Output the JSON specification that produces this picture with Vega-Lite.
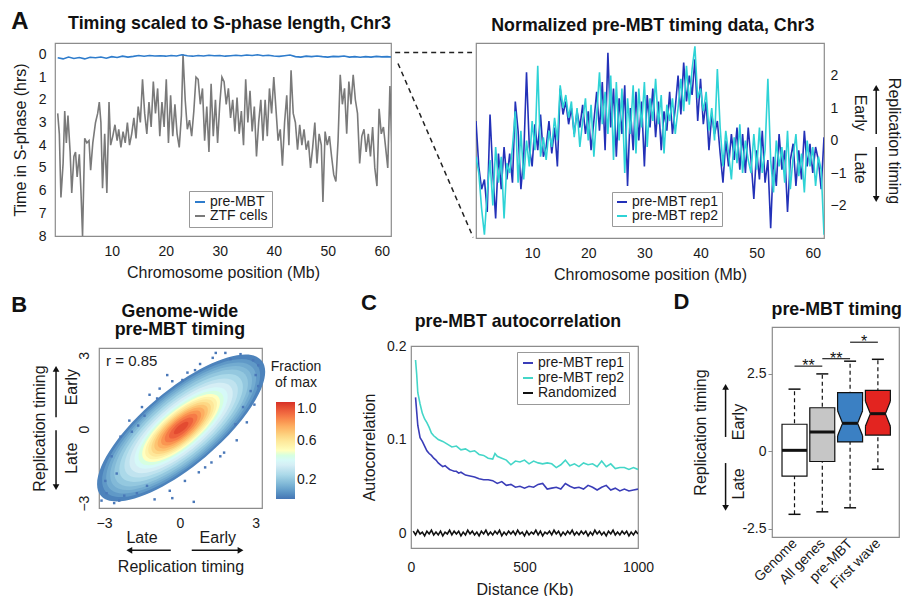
{
"$schema":"https://vega.github.io/schema/vega-lite/v6.json",
"background":"white",
"padding":{"left":10,"top":9,"right":0,"bottom":0},
"spacing":7,
"resolve":{"scale":{"x":"independent","y":"independent","color":"independent","shape":"independent","size":"independent","fill":"independent"},"legend":{"color":"independent","shape":"independent","size":"independent","fill":"independent"},"axis":{"x":"independent","y":"independent"}},
"config":{
 "font":"Liberation Sans",
 "view":{"stroke":"#8c8c8c","strokeWidth":1.2},
 "axis":{"domain":false,"ticks":false,"grid":false,"labelFontSize":14,"titleFontSize":16,"titleFontWeight":"normal","labelColor":"#1a1a1a","titleColor":"#1a1a1a","labelFlush":false,"labelOverlap":false,"labelFont":"Liberation Sans","titleFont":"Liberation Sans"},
 "legend":{"labelFontSize":14,"labelColor":"#1a1a1a","titleFontWeight":"normal","titleFontSize":14,"titleColor":"#1a1a1a","labelFont":"Liberation Sans","titleFont":"Liberation Sans"},
 "text":{"font":"Liberation Sans"}
},
"vconcat":[
 {"bounds":"flush","spacing":85,
  "resolve":{"scale":{"x":"independent","y":"independent","color":"independent","shape":"independent"},"legend":{"color":"independent","shape":"independent"},"axis":{"x":"independent","y":"independent"}},
  "hconcat":[
  {
   "width":336,"height":193,
   "encoding":{
    "x":{"field":"x","type":"quantitative","scale":{"domain":[-0.5,61.7],"nice":false,"zero":false},"axis":{"values":[10,20,30,40,50,60],"title":"Chromosome position (Mb)","labelPadding":8,"titlePadding":6}},
    "y":{"field":"y","type":"quantitative","scale":{"domain":[-0.5,8],"reverse":true,"nice":false,"zero":false},"axis":{"values":[0,1,2,3,4,5,6,7,8],"title":"Time in S-phase (hrs)","labelPadding":9,"titlePadding":10}}
   },
   "layer":[
    {"data":{"values":[
{"x":0,"y":2.6,"s":"ZTF cells"},{"x":0.3,"y":3.5,"s":"ZTF cells"},{"x":0.6,"y":6.3,"s":"ZTF cells"},{"x":1.0,"y":4.8,"s":"ZTF cells"},{"x":1.3,"y":2.5,"s":"ZTF cells"},{"x":1.6,"y":3.9,"s":"ZTF cells"},{"x":1.9,"y":2.7,"s":"ZTF cells"},{"x":2.3,"y":4.3,"s":"ZTF cells"},{"x":2.6,"y":6.1,"s":"ZTF cells"},{"x":3.0,"y":4.5,"s":"ZTF cells"},{"x":3.3,"y":4.3,"s":"ZTF cells"},{"x":3.6,"y":5.4,"s":"ZTF cells"},{"x":4.0,"y":4.4,"s":"ZTF cells"},{"x":4.3,"y":6.0,"s":"ZTF cells"},{"x":4.6,"y":8.0,"s":"ZTF cells"},{"x":5.0,"y":3.7,"s":"ZTF cells"},{"x":5.4,"y":3.9,"s":"ZTF cells"},{"x":5.8,"y":3.8,"s":"ZTF cells"},{"x":6.1,"y":5.1,"s":"ZTF cells"},{"x":6.5,"y":3.9,"s":"ZTF cells"},{"x":7.0,"y":3.0,"s":"ZTF cells"},{"x":7.4,"y":2.6,"s":"ZTF cells"},{"x":7.7,"y":2.1,"s":"ZTF cells"},{"x":8.0,"y":3.0,"s":"ZTF cells"},{"x":8.3,"y":5.9,"s":"ZTF cells"},{"x":8.7,"y":3.5,"s":"ZTF cells"},{"x":9.1,"y":6.1,"s":"ZTF cells"},{"x":9.5,"y":2.1,"s":"ZTF cells"},{"x":9.8,"y":4.0,"s":"ZTF cells"},{"x":10.2,"y":3.6,"s":"ZTF cells"},{"x":10.6,"y":3.1,"s":"ZTF cells"},{"x":11.0,"y":3.8,"s":"ZTF cells"},{"x":11.3,"y":3.3,"s":"ZTF cells"},{"x":11.7,"y":4.1,"s":"ZTF cells"},{"x":12.1,"y":3.4,"s":"ZTF cells"},{"x":12.5,"y":3.9,"s":"ZTF cells"},{"x":12.9,"y":3.0,"s":"ZTF cells"},{"x":13.3,"y":4.0,"s":"ZTF cells"},{"x":13.7,"y":3.5,"s":"ZTF cells"},{"x":14.1,"y":2.8,"s":"ZTF cells"},{"x":14.5,"y":3.7,"s":"ZTF cells"},{"x":14.9,"y":2.3,"s":"ZTF cells"},{"x":15.3,"y":3.0,"s":"ZTF cells"},{"x":15.7,"y":1.1,"s":"ZTF cells"},{"x":16.1,"y":2.6,"s":"ZTF cells"},{"x":16.5,"y":3.5,"s":"ZTF cells"},{"x":16.9,"y":2.1,"s":"ZTF cells"},{"x":17.3,"y":3.2,"s":"ZTF cells"},{"x":17.7,"y":1.2,"s":"ZTF cells"},{"x":18.1,"y":2.6,"s":"ZTF cells"},{"x":18.5,"y":1.5,"s":"ZTF cells"},{"x":18.9,"y":3.6,"s":"ZTF cells"},{"x":19.3,"y":2.1,"s":"ZTF cells"},{"x":19.7,"y":3.2,"s":"ZTF cells"},{"x":20.1,"y":1.1,"s":"ZTF cells"},{"x":20.5,"y":3.9,"s":"ZTF cells"},{"x":20.9,"y":1.8,"s":"ZTF cells"},{"x":21.3,"y":3.6,"s":"ZTF cells"},{"x":21.7,"y":2.2,"s":"ZTF cells"},{"x":22.1,"y":3.5,"s":"ZTF cells"},{"x":22.5,"y":4.1,"s":"ZTF cells"},{"x":22.9,"y":2.7,"s":"ZTF cells"},{"x":23.2,"y":0.0,"s":"ZTF cells"},{"x":23.6,"y":2.0,"s":"ZTF cells"},{"x":24.0,"y":3.3,"s":"ZTF cells"},{"x":24.4,"y":2.9,"s":"ZTF cells"},{"x":24.8,"y":3.6,"s":"ZTF cells"},{"x":25.2,"y":2.5,"s":"ZTF cells"},{"x":25.6,"y":1.0,"s":"ZTF cells"},{"x":26.0,"y":1.1,"s":"ZTF cells"},{"x":26.4,"y":2.2,"s":"ZTF cells"},{"x":26.8,"y":1.5,"s":"ZTF cells"},{"x":27.2,"y":3.8,"s":"ZTF cells"},{"x":27.6,"y":2.3,"s":"ZTF cells"},{"x":28.0,"y":4.3,"s":"ZTF cells"},{"x":28.4,"y":1.3,"s":"ZTF cells"},{"x":28.8,"y":3.6,"s":"ZTF cells"},{"x":29.2,"y":2.0,"s":"ZTF cells"},{"x":29.6,"y":3.9,"s":"ZTF cells"},{"x":30.0,"y":2.2,"s":"ZTF cells"},{"x":30.4,"y":1.0,"s":"ZTF cells"},{"x":30.8,"y":1.2,"s":"ZTF cells"},{"x":31.2,"y":2.2,"s":"ZTF cells"},{"x":31.6,"y":1.5,"s":"ZTF cells"},{"x":32.0,"y":2.8,"s":"ZTF cells"},{"x":32.4,"y":2.0,"s":"ZTF cells"},{"x":32.8,"y":3.4,"s":"ZTF cells"},{"x":33.2,"y":1.9,"s":"ZTF cells"},{"x":33.6,"y":3.5,"s":"ZTF cells"},{"x":34.0,"y":2.5,"s":"ZTF cells"},{"x":34.4,"y":4.0,"s":"ZTF cells"},{"x":34.8,"y":1.1,"s":"ZTF cells"},{"x":35.2,"y":3.0,"s":"ZTF cells"},{"x":35.6,"y":1.6,"s":"ZTF cells"},{"x":36.0,"y":3.4,"s":"ZTF cells"},{"x":36.4,"y":2.3,"s":"ZTF cells"},{"x":36.8,"y":4.5,"s":"ZTF cells"},{"x":37.2,"y":3.0,"s":"ZTF cells"},{"x":37.6,"y":2.0,"s":"ZTF cells"},{"x":38.0,"y":3.8,"s":"ZTF cells"},{"x":38.4,"y":2.0,"s":"ZTF cells"},{"x":38.8,"y":3.6,"s":"ZTF cells"},{"x":39.2,"y":1.5,"s":"ZTF cells"},{"x":39.6,"y":2.6,"s":"ZTF cells"},{"x":40.0,"y":1.0,"s":"ZTF cells"},{"x":40.4,"y":2.4,"s":"ZTF cells"},{"x":40.8,"y":3.8,"s":"ZTF cells"},{"x":41.2,"y":3.3,"s":"ZTF cells"},{"x":41.6,"y":4.9,"s":"ZTF cells"},{"x":42.0,"y":3.0,"s":"ZTF cells"},{"x":42.4,"y":1.8,"s":"ZTF cells"},{"x":42.8,"y":4.0,"s":"ZTF cells"},{"x":43.2,"y":0.7,"s":"ZTF cells"},{"x":43.6,"y":2.6,"s":"ZTF cells"},{"x":44.0,"y":3.0,"s":"ZTF cells"},{"x":44.4,"y":4.2,"s":"ZTF cells"},{"x":44.8,"y":3.1,"s":"ZTF cells"},{"x":45.2,"y":4.0,"s":"ZTF cells"},{"x":45.6,"y":3.3,"s":"ZTF cells"},{"x":46.0,"y":4.2,"s":"ZTF cells"},{"x":46.4,"y":3.8,"s":"ZTF cells"},{"x":46.8,"y":5.0,"s":"ZTF cells"},{"x":47.2,"y":4.1,"s":"ZTF cells"},{"x":47.6,"y":3.0,"s":"ZTF cells"},{"x":48.0,"y":4.8,"s":"ZTF cells"},{"x":48.4,"y":3.5,"s":"ZTF cells"},{"x":48.8,"y":4.0,"s":"ZTF cells"},{"x":49.1,"y":6.5,"s":"ZTF cells"},{"x":49.5,"y":3.4,"s":"ZTF cells"},{"x":49.9,"y":4.0,"s":"ZTF cells"},{"x":50.3,"y":3.6,"s":"ZTF cells"},{"x":50.7,"y":4.5,"s":"ZTF cells"},{"x":51.1,"y":5.3,"s":"ZTF cells"},{"x":51.5,"y":5.6,"s":"ZTF cells"},{"x":51.9,"y":3.8,"s":"ZTF cells"},{"x":52.3,"y":0.9,"s":"ZTF cells"},{"x":52.7,"y":2.2,"s":"ZTF cells"},{"x":53.1,"y":1.5,"s":"ZTF cells"},{"x":53.5,"y":3.5,"s":"ZTF cells"},{"x":53.9,"y":1.2,"s":"ZTF cells"},{"x":54.3,"y":2.2,"s":"ZTF cells"},{"x":54.7,"y":0.9,"s":"ZTF cells"},{"x":55.1,"y":2.0,"s":"ZTF cells"},{"x":55.5,"y":2.6,"s":"ZTF cells"},{"x":55.9,"y":4.8,"s":"ZTF cells"},{"x":56.3,"y":3.6,"s":"ZTF cells"},{"x":56.7,"y":3.3,"s":"ZTF cells"},{"x":57.1,"y":4.3,"s":"ZTF cells"},{"x":57.5,"y":3.5,"s":"ZTF cells"},{"x":57.9,"y":4.5,"s":"ZTF cells"},{"x":58.3,"y":3.2,"s":"ZTF cells"},{"x":58.7,"y":5.0,"s":"ZTF cells"},{"x":59.1,"y":5.8,"s":"ZTF cells"},{"x":59.5,"y":2.4,"s":"ZTF cells"},{"x":59.9,"y":3.5,"s":"ZTF cells"},{"x":60.3,"y":3.2,"s":"ZTF cells"},{"x":60.7,"y":4.1,"s":"ZTF cells"},{"x":61.1,"y":5.0,"s":"ZTF cells"},{"x":61.5,"y":1.4,"s":"ZTF cells"},{"x":61.9,"y":4.3,"s":"ZTF cells"},
{"x":0,"y":0.15,"s":"pre-MBT"},{"x":1,"y":0.2,"s":"pre-MBT"},{"x":2,"y":0.12,"s":"pre-MBT"},{"x":3,"y":0.18,"s":"pre-MBT"},{"x":4,"y":0.14,"s":"pre-MBT"},{"x":5,"y":0.2,"s":"pre-MBT"},{"x":6,"y":0.13,"s":"pre-MBT"},{"x":7,"y":0.15,"s":"pre-MBT"},{"x":8,"y":0.12,"s":"pre-MBT"},{"x":9,"y":0.17,"s":"pre-MBT"},{"x":10,"y":0.1,"s":"pre-MBT"},{"x":11,"y":0.14,"s":"pre-MBT"},{"x":12,"y":0.08,"s":"pre-MBT"},{"x":13,"y":0.12,"s":"pre-MBT"},{"x":14,"y":0.09,"s":"pre-MBT"},{"x":15,"y":0.05,"s":"pre-MBT"},{"x":16,"y":0.08,"s":"pre-MBT"},{"x":17,"y":0.05,"s":"pre-MBT"},{"x":18,"y":0.07,"s":"pre-MBT"},{"x":19,"y":0.06,"s":"pre-MBT"},{"x":20,"y":0.08,"s":"pre-MBT"},{"x":21,"y":0.05,"s":"pre-MBT"},{"x":22,"y":0.07,"s":"pre-MBT"},{"x":23,"y":0.02,"s":"pre-MBT"},{"x":24,"y":0.06,"s":"pre-MBT"},{"x":25,"y":0.08,"s":"pre-MBT"},{"x":26,"y":0.05,"s":"pre-MBT"},{"x":27,"y":0.07,"s":"pre-MBT"},{"x":28,"y":0.04,"s":"pre-MBT"},{"x":29,"y":0.06,"s":"pre-MBT"},{"x":30,"y":0.05,"s":"pre-MBT"},{"x":31,"y":0.08,"s":"pre-MBT"},{"x":32,"y":0.06,"s":"pre-MBT"},{"x":33,"y":0.04,"s":"pre-MBT"},{"x":34,"y":0.06,"s":"pre-MBT"},{"x":35,"y":0.03,"s":"pre-MBT"},{"x":36,"y":0.05,"s":"pre-MBT"},{"x":37,"y":0.02,"s":"pre-MBT"},{"x":38,"y":0.06,"s":"pre-MBT"},{"x":39,"y":0.04,"s":"pre-MBT"},{"x":40,"y":0.07,"s":"pre-MBT"},{"x":41,"y":0.09,"s":"pre-MBT"},{"x":42,"y":0.06,"s":"pre-MBT"},{"x":43,"y":0.03,"s":"pre-MBT"},{"x":44,"y":0.1,"s":"pre-MBT"},{"x":45,"y":0.12,"s":"pre-MBT"},{"x":46,"y":0.08,"s":"pre-MBT"},{"x":47,"y":0.1,"s":"pre-MBT"},{"x":48,"y":0.07,"s":"pre-MBT"},{"x":49,"y":0.1,"s":"pre-MBT"},{"x":50,"y":0.12,"s":"pre-MBT"},{"x":51,"y":0.09,"s":"pre-MBT"},{"x":52,"y":0.1,"s":"pre-MBT"},{"x":53,"y":0.07,"s":"pre-MBT"},{"x":54,"y":0.12,"s":"pre-MBT"},{"x":55,"y":0.1,"s":"pre-MBT"},{"x":56,"y":0.13,"s":"pre-MBT"},{"x":57,"y":0.1,"s":"pre-MBT"},{"x":58,"y":0.12,"s":"pre-MBT"},{"x":59,"y":0.09,"s":"pre-MBT"},{"x":60,"y":0.11,"s":"pre-MBT"},{"x":61,"y":0.1,"s":"pre-MBT"},{"x":61.7,"y":0.12,"s":"pre-MBT"}
    ]},
     "mark":{"type":"line","clip":true,"strokeWidth":1.6},
     "encoding":{"color":{"field":"s","type":"nominal","scale":{"domain":["pre-MBT","ZTF cells"],"range":["#2e7ccc","#7a7a7a"]},
      "legend":{"orient":"none","legendX":134,"legendY":148,"title":null,"symbolType":"stroke","symbolStrokeWidth":2,"symbolSize":100,"labelFontSize":14,"padding":4,"strokeColor":"#999999","fillColor":"white","rowPadding":0,"labelOffset":3}}}},
    {"data":{"values":[{"x":-7,"y":-1.41,"label":"A"}]},
     "mark":{"type":"text","fontSize":24,"fontWeight":"bold","align":"center","baseline":"middle","color":"#111111","clip":false},
     "encoding":{"text":{"field":"label"}}},
    {"data":{"values":[{"x":31.8,"y":-1.32,"label":"Timing scaled to S-phase length, Chr3"}]},
     "mark":{"type":"text","fontSize":17.8,"fontWeight":"bold","align":"center","baseline":"middle","color":"#111111","clip":false},
     "encoding":{"text":{"field":"label"}}}
   ]
  },
  {
   "width":348,"height":195,
   "encoding":{
    "x":{"field":"x","type":"quantitative","scale":{"domain":[0,62],"nice":false,"zero":false},"axis":{"values":[10,20,30,40,50,60],"title":"Chromosome position (Mb)","labelPadding":8,"titlePadding":6}},
    "y":{"field":"y","type":"quantitative","scale":{"domain":[-3,3],"nice":false,"zero":false},"axis":{"orient":"right","values":[-2,-1,0,1,2],"format":"~g","title":"Replication timing","labelPadding":6,"titlePadding":40}}
   },
   "layer":[
    {"data":{"values":[
{"x":0,"y":0.6,"s":"pre-MBT rep1"},{"x":0.5,"y":-0.8,"s":"pre-MBT rep1"},{"x":1,"y":-1.5,"s":"pre-MBT rep1"},{"x":1.5,"y":-1.2,"s":"pre-MBT rep1"},{"x":2,"y":-2.2,"s":"pre-MBT rep1"},{"x":2.5,"y":0.8,"s":"pre-MBT rep1"},{"x":3,"y":-1.0,"s":"pre-MBT rep1"},{"x":3.5,"y":-2.4,"s":"pre-MBT rep1"},{"x":4,"y":-0.4,"s":"pre-MBT rep1"},{"x":4.5,"y":-1.5,"s":"pre-MBT rep1"},{"x":5,"y":-0.2,"s":"pre-MBT rep1"},{"x":5.5,"y":-1.2,"s":"pre-MBT rep1"},{"x":6,"y":-0.4,"s":"pre-MBT rep1"},{"x":6.5,"y":-1.3,"s":"pre-MBT rep1"},{"x":7,"y":1.2,"s":"pre-MBT rep1"},{"x":7.5,"y":0.3,"s":"pre-MBT rep1"},{"x":8,"y":-1.5,"s":"pre-MBT rep1"},{"x":8.5,"y":-0.5,"s":"pre-MBT rep1"},{"x":9,"y":2.1,"s":"pre-MBT rep1"},{"x":9.5,"y":-0.2,"s":"pre-MBT rep1"},{"x":10,"y":-0.8,"s":"pre-MBT rep1"},{"x":10.5,"y":0.5,"s":"pre-MBT rep1"},{"x":11,"y":-0.3,"s":"pre-MBT rep1"},{"x":11.5,"y":0.8,"s":"pre-MBT rep1"},{"x":12,"y":-0.5,"s":"pre-MBT rep1"},{"x":12.5,"y":-0.2,"s":"pre-MBT rep1"},{"x":13,"y":0.6,"s":"pre-MBT rep1"},{"x":13.5,"y":-0.4,"s":"pre-MBT rep1"},{"x":14,"y":0.4,"s":"pre-MBT rep1"},{"x":14.5,"y":-0.8,"s":"pre-MBT rep1"},{"x":15,"y":1.6,"s":"pre-MBT rep1"},{"x":15.5,"y":0.8,"s":"pre-MBT rep1"},{"x":16,"y":1.2,"s":"pre-MBT rep1"},{"x":16.5,"y":0.5,"s":"pre-MBT rep1"},{"x":17,"y":1.0,"s":"pre-MBT rep1"},{"x":17.5,"y":0.2,"s":"pre-MBT rep1"},{"x":18,"y":0.9,"s":"pre-MBT rep1"},{"x":18.5,"y":0.4,"s":"pre-MBT rep1"},{"x":19,"y":1.1,"s":"pre-MBT rep1"},{"x":19.5,"y":0.2,"s":"pre-MBT rep1"},{"x":20,"y":0.9,"s":"pre-MBT rep1"},{"x":20.5,"y":-0.3,"s":"pre-MBT rep1"},{"x":21,"y":0.6,"s":"pre-MBT rep1"},{"x":21.5,"y":1.5,"s":"pre-MBT rep1"},{"x":22,"y":0.3,"s":"pre-MBT rep1"},{"x":22.5,"y":1.8,"s":"pre-MBT rep1"},{"x":23,"y":-0.3,"s":"pre-MBT rep1"},{"x":23.5,"y":2.7,"s":"pre-MBT rep1"},{"x":24,"y":0.4,"s":"pre-MBT rep1"},{"x":24.5,"y":1.6,"s":"pre-MBT rep1"},{"x":25,"y":-0.5,"s":"pre-MBT rep1"},{"x":25.5,"y":1.3,"s":"pre-MBT rep1"},{"x":26,"y":0.2,"s":"pre-MBT rep1"},{"x":26.5,"y":1.7,"s":"pre-MBT rep1"},{"x":27,"y":-1.4,"s":"pre-MBT rep1"},{"x":27.5,"y":1.0,"s":"pre-MBT rep1"},{"x":28,"y":-0.3,"s":"pre-MBT rep1"},{"x":28.5,"y":1.5,"s":"pre-MBT rep1"},{"x":29,"y":0.0,"s":"pre-MBT rep1"},{"x":29.5,"y":1.2,"s":"pre-MBT rep1"},{"x":30,"y":-0.8,"s":"pre-MBT rep1"},{"x":30.5,"y":1.4,"s":"pre-MBT rep1"},{"x":31,"y":0.4,"s":"pre-MBT rep1"},{"x":31.5,"y":1.6,"s":"pre-MBT rep1"},{"x":32,"y":0.1,"s":"pre-MBT rep1"},{"x":32.5,"y":1.2,"s":"pre-MBT rep1"},{"x":33,"y":-0.3,"s":"pre-MBT rep1"},{"x":33.5,"y":0.9,"s":"pre-MBT rep1"},{"x":34,"y":0.3,"s":"pre-MBT rep1"},{"x":34.5,"y":1.5,"s":"pre-MBT rep1"},{"x":35,"y":0.2,"s":"pre-MBT rep1"},{"x":35.5,"y":1.0,"s":"pre-MBT rep1"},{"x":36,"y":2.0,"s":"pre-MBT rep1"},{"x":36.5,"y":0.8,"s":"pre-MBT rep1"},{"x":37,"y":2.4,"s":"pre-MBT rep1"},{"x":37.5,"y":1.2,"s":"pre-MBT rep1"},{"x":38,"y":2.0,"s":"pre-MBT rep1"},{"x":38.5,"y":1.4,"s":"pre-MBT rep1"},{"x":39,"y":2.5,"s":"pre-MBT rep1"},{"x":39.5,"y":0.6,"s":"pre-MBT rep1"},{"x":40,"y":1.9,"s":"pre-MBT rep1"},{"x":40.5,"y":0.5,"s":"pre-MBT rep1"},{"x":41,"y":1.2,"s":"pre-MBT rep1"},{"x":41.5,"y":-0.3,"s":"pre-MBT rep1"},{"x":42,"y":0.8,"s":"pre-MBT rep1"},{"x":42.5,"y":0.2,"s":"pre-MBT rep1"},{"x":43,"y":0.6,"s":"pre-MBT rep1"},{"x":43.5,"y":-0.4,"s":"pre-MBT rep1"},{"x":44,"y":-1.3,"s":"pre-MBT rep1"},{"x":44.5,"y":0.0,"s":"pre-MBT rep1"},{"x":45,"y":-0.8,"s":"pre-MBT rep1"},{"x":45.5,"y":0.2,"s":"pre-MBT rep1"},{"x":46,"y":-0.6,"s":"pre-MBT rep1"},{"x":46.5,"y":0.4,"s":"pre-MBT rep1"},{"x":47,"y":-0.9,"s":"pre-MBT rep1"},{"x":47.5,"y":0.2,"s":"pre-MBT rep1"},{"x":48,"y":-1.0,"s":"pre-MBT rep1"},{"x":48.5,"y":0.4,"s":"pre-MBT rep1"},{"x":49,"y":-0.6,"s":"pre-MBT rep1"},{"x":49.5,"y":-1.8,"s":"pre-MBT rep1"},{"x":50,"y":-0.3,"s":"pre-MBT rep1"},{"x":50.5,"y":-1.2,"s":"pre-MBT rep1"},{"x":51,"y":0.3,"s":"pre-MBT rep1"},{"x":51.5,"y":-1.3,"s":"pre-MBT rep1"},{"x":52,"y":-0.6,"s":"pre-MBT rep1"},{"x":52.5,"y":-2.7,"s":"pre-MBT rep1"},{"x":53,"y":-0.5,"s":"pre-MBT rep1"},{"x":53.5,"y":-1.4,"s":"pre-MBT rep1"},{"x":54,"y":0.2,"s":"pre-MBT rep1"},{"x":54.5,"y":-0.9,"s":"pre-MBT rep1"},{"x":55,"y":-0.3,"s":"pre-MBT rep1"},{"x":55.5,"y":-2.2,"s":"pre-MBT rep1"},{"x":56,"y":-0.6,"s":"pre-MBT rep1"},{"x":56.5,"y":-0.1,"s":"pre-MBT rep1"},{"x":57,"y":-1.4,"s":"pre-MBT rep1"},{"x":57.5,"y":-0.3,"s":"pre-MBT rep1"},{"x":58,"y":-1.2,"s":"pre-MBT rep1"},{"x":58.5,"y":0.3,"s":"pre-MBT rep1"},{"x":59,"y":-0.8,"s":"pre-MBT rep1"},{"x":59.5,"y":-0.1,"s":"pre-MBT rep1"},{"x":60,"y":-1.0,"s":"pre-MBT rep1"},{"x":60.5,"y":-0.2,"s":"pre-MBT rep1"},{"x":61,"y":-0.6,"s":"pre-MBT rep1"},{"x":61.5,"y":-1.5,"s":"pre-MBT rep1"},{"x":62,"y":0.1,"s":"pre-MBT rep1"},
{"x":0,"y":-0.5,"s":"pre-MBT rep2"},{"x":0.5,"y":-1.0,"s":"pre-MBT rep2"},{"x":1,"y":-2.1,"s":"pre-MBT rep2"},{"x":1.5,"y":-2.9,"s":"pre-MBT rep2"},{"x":2,"y":-1.6,"s":"pre-MBT rep2"},{"x":2.5,"y":-0.6,"s":"pre-MBT rep2"},{"x":3,"y":-2.0,"s":"pre-MBT rep2"},{"x":3.5,"y":-0.2,"s":"pre-MBT rep2"},{"x":4,"y":-1.3,"s":"pre-MBT rep2"},{"x":4.5,"y":-0.5,"s":"pre-MBT rep2"},{"x":5,"y":-2.4,"s":"pre-MBT rep2"},{"x":5.5,"y":-0.7,"s":"pre-MBT rep2"},{"x":6,"y":-1.0,"s":"pre-MBT rep2"},{"x":6.5,"y":-0.2,"s":"pre-MBT rep2"},{"x":7,"y":0.9,"s":"pre-MBT rep2"},{"x":7.5,"y":-1.3,"s":"pre-MBT rep2"},{"x":8,"y":0.3,"s":"pre-MBT rep2"},{"x":8.5,"y":-1.2,"s":"pre-MBT rep2"},{"x":9,"y":0.0,"s":"pre-MBT rep2"},{"x":9.5,"y":-0.8,"s":"pre-MBT rep2"},{"x":10,"y":0.6,"s":"pre-MBT rep2"},{"x":10.5,"y":-0.3,"s":"pre-MBT rep2"},{"x":11,"y":2.3,"s":"pre-MBT rep2"},{"x":11.5,"y":-0.5,"s":"pre-MBT rep2"},{"x":12,"y":0.1,"s":"pre-MBT rep2"},{"x":12.5,"y":-0.6,"s":"pre-MBT rep2"},{"x":13,"y":0.3,"s":"pre-MBT rep2"},{"x":13.5,"y":-0.2,"s":"pre-MBT rep2"},{"x":14,"y":0.7,"s":"pre-MBT rep2"},{"x":14.5,"y":0.0,"s":"pre-MBT rep2"},{"x":15,"y":1.7,"s":"pre-MBT rep2"},{"x":15.5,"y":1.0,"s":"pre-MBT rep2"},{"x":16,"y":1.4,"s":"pre-MBT rep2"},{"x":16.5,"y":0.7,"s":"pre-MBT rep2"},{"x":17,"y":1.2,"s":"pre-MBT rep2"},{"x":17.5,"y":0.1,"s":"pre-MBT rep2"},{"x":18,"y":1.0,"s":"pre-MBT rep2"},{"x":18.5,"y":-0.2,"s":"pre-MBT rep2"},{"x":19,"y":0.6,"s":"pre-MBT rep2"},{"x":19.5,"y":1.3,"s":"pre-MBT rep2"},{"x":20,"y":0.0,"s":"pre-MBT rep2"},{"x":20.5,"y":1.1,"s":"pre-MBT rep2"},{"x":21,"y":-0.5,"s":"pre-MBT rep2"},{"x":21.5,"y":0.8,"s":"pre-MBT rep2"},{"x":22,"y":2.1,"s":"pre-MBT rep2"},{"x":22.5,"y":0.5,"s":"pre-MBT rep2"},{"x":23,"y":1.5,"s":"pre-MBT rep2"},{"x":23.5,"y":0.2,"s":"pre-MBT rep2"},{"x":24,"y":2.0,"s":"pre-MBT rep2"},{"x":24.5,"y":-0.6,"s":"pre-MBT rep2"},{"x":25,"y":1.8,"s":"pre-MBT rep2"},{"x":25.5,"y":0.0,"s":"pre-MBT rep2"},{"x":26,"y":1.6,"s":"pre-MBT rep2"},{"x":26.5,"y":-1.0,"s":"pre-MBT rep2"},{"x":27,"y":1.3,"s":"pre-MBT rep2"},{"x":27.5,"y":0.2,"s":"pre-MBT rep2"},{"x":28,"y":1.7,"s":"pre-MBT rep2"},{"x":28.5,"y":-0.4,"s":"pre-MBT rep2"},{"x":29,"y":1.6,"s":"pre-MBT rep2"},{"x":29.5,"y":0.4,"s":"pre-MBT rep2"},{"x":30,"y":1.8,"s":"pre-MBT rep2"},{"x":30.5,"y":-0.2,"s":"pre-MBT rep2"},{"x":31,"y":1.3,"s":"pre-MBT rep2"},{"x":31.5,"y":0.6,"s":"pre-MBT rep2"},{"x":32,"y":1.9,"s":"pre-MBT rep2"},{"x":32.5,"y":0.5,"s":"pre-MBT rep2"},{"x":33,"y":1.4,"s":"pre-MBT rep2"},{"x":33.5,"y":-0.4,"s":"pre-MBT rep2"},{"x":34,"y":1.1,"s":"pre-MBT rep2"},{"x":34.5,"y":0.6,"s":"pre-MBT rep2"},{"x":35,"y":1.3,"s":"pre-MBT rep2"},{"x":35.5,"y":0.2,"s":"pre-MBT rep2"},{"x":36,"y":1.0,"s":"pre-MBT rep2"},{"x":36.5,"y":1.9,"s":"pre-MBT rep2"},{"x":37,"y":0.9,"s":"pre-MBT rep2"},{"x":37.5,"y":2.3,"s":"pre-MBT rep2"},{"x":38,"y":1.1,"s":"pre-MBT rep2"},{"x":38.5,"y":2.2,"s":"pre-MBT rep2"},{"x":39,"y":2.9,"s":"pre-MBT rep2"},{"x":39.5,"y":1.3,"s":"pre-MBT rep2"},{"x":40,"y":1.6,"s":"pre-MBT rep2"},{"x":40.5,"y":0.9,"s":"pre-MBT rep2"},{"x":41,"y":1.5,"s":"pre-MBT rep2"},{"x":41.5,"y":0.3,"s":"pre-MBT rep2"},{"x":42,"y":1.0,"s":"pre-MBT rep2"},{"x":42.5,"y":0.0,"s":"pre-MBT rep2"},{"x":43,"y":2.2,"s":"pre-MBT rep2"},{"x":43.5,"y":0.4,"s":"pre-MBT rep2"},{"x":44,"y":-0.8,"s":"pre-MBT rep2"},{"x":44.5,"y":0.3,"s":"pre-MBT rep2"},{"x":45,"y":-0.4,"s":"pre-MBT rep2"},{"x":45.5,"y":-1.2,"s":"pre-MBT rep2"},{"x":46,"y":0.1,"s":"pre-MBT rep2"},{"x":46.5,"y":-0.7,"s":"pre-MBT rep2"},{"x":47,"y":0.5,"s":"pre-MBT rep2"},{"x":47.5,"y":-1.0,"s":"pre-MBT rep2"},{"x":48,"y":0.0,"s":"pre-MBT rep2"},{"x":48.5,"y":-0.6,"s":"pre-MBT rep2"},{"x":49,"y":-1.0,"s":"pre-MBT rep2"},{"x":49.5,"y":0.2,"s":"pre-MBT rep2"},{"x":50,"y":-0.9,"s":"pre-MBT rep2"},{"x":50.5,"y":0.4,"s":"pre-MBT rep2"},{"x":51,"y":-1.0,"s":"pre-MBT rep2"},{"x":51.5,"y":-0.3,"s":"pre-MBT rep2"},{"x":52,"y":1.9,"s":"pre-MBT rep2"},{"x":52.5,"y":-0.6,"s":"pre-MBT rep2"},{"x":53,"y":-1.6,"s":"pre-MBT rep2"},{"x":53.5,"y":0.0,"s":"pre-MBT rep2"},{"x":54,"y":-0.8,"s":"pre-MBT rep2"},{"x":54.5,"y":-0.2,"s":"pre-MBT rep2"},{"x":55,"y":-1.3,"s":"pre-MBT rep2"},{"x":55.5,"y":0.3,"s":"pre-MBT rep2"},{"x":56,"y":-1.5,"s":"pre-MBT rep2"},{"x":56.5,"y":-0.5,"s":"pre-MBT rep2"},{"x":57,"y":0.2,"s":"pre-MBT rep2"},{"x":57.5,"y":-1.1,"s":"pre-MBT rep2"},{"x":58,"y":-0.4,"s":"pre-MBT rep2"},{"x":58.5,"y":-1.6,"s":"pre-MBT rep2"},{"x":59,"y":0.0,"s":"pre-MBT rep2"},{"x":59.5,"y":-0.8,"s":"pre-MBT rep2"},{"x":60,"y":-0.2,"s":"pre-MBT rep2"},{"x":60.5,"y":-1.4,"s":"pre-MBT rep2"},{"x":61,"y":-0.5,"s":"pre-MBT rep2"},{"x":61.5,"y":-0.9,"s":"pre-MBT rep2"},{"x":62,"y":-2.9,"s":"pre-MBT rep2"}
    ]},
     "mark":{"type":"line","clip":true,"strokeWidth":1.6},
     "encoding":{"color":{"field":"s","type":"nominal","scale":{"domain":["pre-MBT rep1","pre-MBT rep2"],"range":["#2331b8","#2ed3d6"]},
      "legend":{"orient":"none","legendX":136,"legendY":149,"title":null,"symbolType":"stroke","symbolStrokeWidth":2,"symbolSize":100,"labelFontSize":14,"padding":3,"strokeColor":"#999999","fillColor":"white","rowPadding":0,"labelOffset":3}}}},
    {"data":{"values":[{"x":-14.4,"y":2.71,"x2":-0.7,"y2":2.71},{"x":-13.9,"y":2.37,"x2":-0.5,"y2":-2.98}]},
     "mark":{"type":"rule","strokeDash":[5,4],"strokeWidth":1.5,"color":"#222222","clip":false},
     "encoding":{"x2":{"field":"x2"},"y2":{"field":"y2"}}},
    {"data":{"values":[{"x":71.3,"y":0.2,"x2":71.3,"y2":1.6},{"x":71.3,"y":-0.2,"x2":71.3,"y2":-1.78}]},
     "mark":{"type":"rule","strokeWidth":1.5,"color":"#111111","clip":false},
     "encoding":{"x2":{"field":"x2"},"y2":{"field":"y2"}}},
    {"data":{"values":[{"x":71.3,"y":1.62,"dir":"up"},{"x":71.3,"y":-1.8,"dir":"down"}]},
     "mark":{"type":"point","filled":true,"size":45,"color":"#111111","opacity":1,"clip":false},
     "encoding":{"shape":{"field":"dir","type":"nominal","scale":{"domain":["up","down","left","right"],"range":["triangle-up","triangle-down","triangle-left","triangle-right"]},"legend":null}}},
    {"data":{"values":[{"x":68.4,"y":0.85,"label":"Early"},{"x":68.4,"y":-0.85,"label":"Late"}]},
     "mark":{"type":"text","fontSize":16,"angle":90,"align":"center","baseline":"middle","color":"#1a1a1a","clip":false},
     "encoding":{"text":{"field":"label"}}},
    {"data":{"values":[{"x":31.5,"y":3.52,"label":"Normalized pre-MBT timing data, Chr3"}]},
     "mark":{"type":"text","fontSize":17.8,"fontWeight":"bold","align":"center","baseline":"middle","color":"#111111","clip":false},
     "encoding":{"text":{"field":"label"}}}
   ]
  }
 ]},
 {"bounds":"flush","spacing":43,
  "resolve":{"scale":{"x":"independent","y":"independent","color":"independent","shape":"independent","size":"independent","fill":"independent"},"legend":{"color":"independent","shape":"independent","size":"independent","fill":"independent"},"axis":{"x":"independent","y":"independent"}},
  "hconcat":[
  {"width":1,"height":1,"view":{"stroke":null},"data":{"values":[{"a":1}]},"mark":{"type":"text","text":""}},
  {"bounds":"flush","spacing":312,
   "resolve":{"scale":{"x":"independent","y":"independent","color":"independent","shape":"independent","size":"independent","fill":"independent"},"legend":{"color":"independent","shape":"independent","size":"independent","fill":"independent"},"axis":{"x":"independent","y":"independent"}},
   "hconcat":[
   {"bounds":"flush","spacing":0,
    "resolve":{"scale":{"x":"independent","y":"independent","color":"independent","shape":"independent","size":"independent"},"legend":{"color":"independent","shape":"independent","size":"independent"},"axis":{"x":"independent","y":"independent"}},
    "vconcat":[
    {"width":1,"height":21,"view":{"stroke":null},"data":{"values":[{"a":1}]},"mark":{"type":"text","text":""}},
    {
     "width":163,"height":160,
     "encoding":{
      "x":{"field":"x","type":"quantitative","scale":{"domain":[-3.2,3.25],"nice":false,"zero":false},"axis":{"values":[-3,0,3],"format":"~g","title":"Replication timing","labelPadding":8,"titlePadding":28}},
      "y":{"field":"y","type":"quantitative","scale":{"domain":[-3.2,3.3],"nice":false,"zero":false},"axis":{"values":[-3,0,3],"format":"~g","labelAngle":-90,"labelAlign":"center","labelBaseline":"bottom","title":"Replication timing","labelPadding":8,"titlePadding":30}}
     },
     "layer":[
      {"data":{"values":[
{"x":0.05,"y":0.05,"level":0.03,"extent":4.15},{"x":0.05,"y":0.05,"level":0.08,"extent":3.9},{"x":0.05,"y":0.05,"level":0.12,"extent":3.7},{"x":0.05,"y":0.05,"level":0.16,"extent":3.5},{"x":0.05,"y":0.05,"level":0.2,"extent":3.3},{"x":0.05,"y":0.05,"level":0.25,"extent":3.05},{"x":0.05,"y":0.05,"level":0.3,"extent":2.8},{"x":0.05,"y":0.05,"level":0.35,"extent":2.55},{"x":0.05,"y":0.05,"level":0.4,"extent":2.3},{"x":0.05,"y":0.05,"level":0.45,"extent":2.1},{"x":0.05,"y":0.05,"level":0.5,"extent":1.92},{"x":0.05,"y":0.05,"level":0.55,"extent":1.77},{"x":0.05,"y":0.05,"level":0.6,"extent":1.62},{"x":0.05,"y":0.05,"level":0.65,"extent":1.47},{"x":0.05,"y":0.05,"level":0.7,"extent":1.32},{"x":0.05,"y":0.05,"level":0.75,"extent":1.16},{"x":0.05,"y":0.05,"level":0.8,"extent":0.99},{"x":0.05,"y":0.05,"level":0.85,"extent":0.81},{"x":0.05,"y":0.05,"level":0.9,"extent":0.6},{"x":0.05,"y":0.05,"level":0.95,"extent":0.36}
      ]},
       "mark":{"type":"point","shape":"M -0.766 0.643 A 1 0.36 -40 0 1 0.766 -0.643 A 1 0.36 -40 0 1 -0.766 0.643 Z","filled":true,"opacity":1,"strokeWidth":0},
       "encoding":{
        "color":{"field":"level","type":"quantitative","scale":{"domain":[0,1],"range":["#4575b4","#74add1","#abd9e9","#e0f3f8","#ffffbf","#fee090","#fdae61","#f46d43","#d73027"]},
         "legend":{"orient":"none","legendX":172,"legendY":12,"title":["Fraction","of max"],"titleAlign":"center","titleAnchor":"middle","titlePadding":12,"gradientLength":97,"gradientThickness":19,"values":[0.2,0.4,0.6,0.8,1.0],"format":".1f","labelFontSize":14,"direction":"vertical","gradientStrokeWidth":0}},
        "size":{"field":"extent","type":"quantitative","scale":{"type":"pow","exponent":2,"domain":[0,4],"range":[0,40966]},"legend":null}}},
      {"data":{"values":[
{"x":-1.2,"y":1.4},{"x":-0.8,"y":1.65},{"x":-1.5,"y":0.9},{"x":-2.0,"y":0.35},{"x":-2.35,"y":-0.3},{"x":-2.7,"y":-1.1},{"x":-0.3,"y":1.95},{"x":0.3,"y":2.3},{"x":0.8,"y":2.65},{"x":1.3,"y":2.9},{"x":1.8,"y":3.1},{"x":2.4,"y":3.05},{"x":-0.5,"y":2.2},{"x":2.9,"y":2.8},{"x":3.1,"y":2.6},{"x":1.42,"y":3.1},{"x":2.0,"y":2.85},{"x":1.25,"y":-1.35},{"x":0.75,"y":-1.75},{"x":1.75,"y":-0.95},{"x":2.25,"y":-0.45},{"x":2.65,"y":0.28},{"x":2.95,"y":1.0},{"x":3.1,"y":1.75},{"x":0.2,"y":-2.1},{"x":-0.4,"y":-2.5},{"x":-1.0,"y":-2.85},{"x":2.8,"y":1.55},{"x":-0.3,"y":-2.8},{"x":0.55,"y":-2.95},{"x":-2.9,"y":-2.6},{"x":-3.1,"y":-2.9},{"x":-2.6,"y":-3.0},{"x":-2.2,"y":-2.7},{"x":-1.7,"y":-2.6},{"x":-2.95,"y":-2.1},{"x":-2.5,"y":-1.8},{"x":-1.9,"y":-0.1},{"x":-1.4,"y":0.55},{"x":-0.9,"y":1.25},{"x":0.1,"y":2.0},{"x":0.6,"y":2.4},{"x":1.6,"y":-1.1},{"x":1.0,"y":-1.55},{"x":2.5,"y":0.9},{"x":3.0,"y":2.2},{"x":-2.4,"y":-2.9},{"x":-1.3,"y":-2.3},{"x":2.2,"y":0.2},{"x":-1.65,"y":0.15}
      ]},
       "mark":{"type":"square","size":6,"color":"#4a78b8","opacity":1}},
      {"data":{"values":[{"x":-2.92,"y":2.79,"label":"r = 0.85"}]},
       "mark":{"type":"text","align":"left","baseline":"middle","fontSize":15,"color":"#222222"},
       "encoding":{"text":{"field":"label"}}},
      {"data":{"values":[{"x":-6.36,"y":5.04,"label":"B"}]},
       "mark":{"type":"text","fontSize":22,"fontWeight":"bold","align":"center","baseline":"middle","color":"#111111","clip":false},
       "encoding":{"text":{"field":"label"}}},
      {"data":{"values":[{"x":0.0,"y":4.76,"label":"Genome-wide"},{"x":0.0,"y":4.02,"label":"pre-MBT timing"}]},
       "mark":{"type":"text","fontSize":17.8,"fontWeight":"bold","align":"center","baseline":"middle","color":"#111111","clip":false},
       "encoding":{"text":{"field":"label"}}},
      {"data":{"values":[{"x":-4.9,"y":0.49,"x2":-4.9,"y2":2.45},{"x":-4.9,"y":-0.04,"x2":-4.9,"y2":-2.35},{"x":-0.36,"y":-4.92,"x2":-1.97,"y2":-4.92},{"x":0.47,"y":-4.92,"x2":2.37,"y2":-4.92}]},
       "mark":{"type":"rule","strokeWidth":1.5,"color":"#111111","clip":false},
       "encoding":{"x2":{"field":"x2"},"y2":{"field":"y2"}}},
      {"data":{"values":[{"x":-4.9,"y":2.45,"dir":"up"},{"x":-4.9,"y":-2.35,"dir":"down"},{"x":-2.0,"y":-4.92,"dir":"left"},{"x":2.4,"y":-4.92,"dir":"right"}]},
       "mark":{"type":"point","filled":true,"size":45,"color":"#111111","opacity":1,"clip":false},
       "encoding":{"shape":{"field":"dir","type":"nominal","scale":{"domain":["up","down","left","right"],"range":["triangle-up","triangle-down","triangle-left","triangle-right"]},"legend":null}}},
      {"data":{"values":[{"x":-4.27,"y":1.71,"label":"Early"},{"x":-4.27,"y":-1.18,"label":"Late"}]},
       "mark":{"type":"text","fontSize":16,"angle":-90,"align":"center","baseline":"middle","color":"#1a1a1a","clip":false},
       "encoding":{"text":{"field":"label"}}},
      {"data":{"values":[{"x":-1.5,"y":-4.43,"label":"Late"},{"x":1.5,"y":-4.43,"label":"Early"}]},
       "mark":{"type":"text","fontSize":16,"align":"center","baseline":"middle","color":"#1a1a1a","clip":false},
       "encoding":{"text":{"field":"label"}}}
     ]
    }
   ]},
   {"bounds":"flush","spacing":361,
    "resolve":{"scale":{"x":"independent","y":"independent","color":"independent","shape":"independent","fill":"independent"},"legend":{"color":"independent","shape":"independent","fill":"independent"},"axis":{"x":"independent","y":"independent"}},
    "hconcat":[
    {"bounds":"flush","spacing":0,
     "resolve":{"scale":{"x":"independent","y":"independent","color":"independent"},"legend":{"color":"independent"},"axis":{"x":"independent","y":"independent"}},
     "vconcat":[
     {"width":1,"height":19,"view":{"stroke":null},"data":{"values":[{"a":1}]},"mark":{"type":"text","text":""}},
     {
      "width":227,"height":202,
      "encoding":{
       "x":{"field":"x","type":"quantitative","scale":{"domain":[0,1000],"nice":false,"zero":false},"axis":{"values":[0,500,1000],"format":"d","title":"Distance (Kb)","labelPadding":12,"titlePadding":7}},
       "y":{"field":"y","type":"quantitative","scale":{"domain":[-0.016,0.2],"nice":false,"zero":false},"axis":{"values":[0,0.1,0.2],"format":"~g","title":"Autocorrelation","labelPadding":5,"titlePadding":9}}
      },
      "layer":[
       {"data":{"values":[
{"x":20,"y":0.145,"s":"pre-MBT rep1"},{"x":30,"y":0.115,"s":"pre-MBT rep1"},{"x":40,"y":0.102,"s":"pre-MBT rep1"},{"x":50,"y":0.098,"s":"pre-MBT rep1"},{"x":60,"y":0.093,"s":"pre-MBT rep1"},{"x":70,"y":0.088,"s":"pre-MBT rep1"},{"x":80,"y":0.085,"s":"pre-MBT rep1"},{"x":90,"y":0.083,"s":"pre-MBT rep1"},{"x":100,"y":0.08,"s":"pre-MBT rep1"},{"x":110,"y":0.078,"s":"pre-MBT rep1"},{"x":120,"y":0.075,"s":"pre-MBT rep1"},{"x":130,"y":0.073,"s":"pre-MBT rep1"},{"x":140,"y":0.071,"s":"pre-MBT rep1"},{"x":150,"y":0.072,"s":"pre-MBT rep1"},{"x":160,"y":0.07,"s":"pre-MBT rep1"},{"x":170,"y":0.068,"s":"pre-MBT rep1"},{"x":180,"y":0.067,"s":"pre-MBT rep1"},{"x":190,"y":0.066,"s":"pre-MBT rep1"},{"x":200,"y":0.066,"s":"pre-MBT rep1"},{"x":210,"y":0.064,"s":"pre-MBT rep1"},{"x":220,"y":0.065,"s":"pre-MBT rep1"},{"x":240,"y":0.062,"s":"pre-MBT rep1"},{"x":260,"y":0.061,"s":"pre-MBT rep1"},{"x":280,"y":0.06,"s":"pre-MBT rep1"},{"x":300,"y":0.058,"s":"pre-MBT rep1"},{"x":320,"y":0.057,"s":"pre-MBT rep1"},{"x":340,"y":0.057,"s":"pre-MBT rep1"},{"x":360,"y":0.056,"s":"pre-MBT rep1"},{"x":380,"y":0.053,"s":"pre-MBT rep1"},{"x":400,"y":0.055,"s":"pre-MBT rep1"},{"x":420,"y":0.051,"s":"pre-MBT rep1"},{"x":440,"y":0.052,"s":"pre-MBT rep1"},{"x":460,"y":0.049,"s":"pre-MBT rep1"},{"x":480,"y":0.05,"s":"pre-MBT rep1"},{"x":500,"y":0.048,"s":"pre-MBT rep1"},{"x":520,"y":0.05,"s":"pre-MBT rep1"},{"x":540,"y":0.049,"s":"pre-MBT rep1"},{"x":560,"y":0.052,"s":"pre-MBT rep1"},{"x":580,"y":0.053,"s":"pre-MBT rep1"},{"x":600,"y":0.047,"s":"pre-MBT rep1"},{"x":620,"y":0.048,"s":"pre-MBT rep1"},{"x":640,"y":0.049,"s":"pre-MBT rep1"},{"x":660,"y":0.047,"s":"pre-MBT rep1"},{"x":680,"y":0.053,"s":"pre-MBT rep1"},{"x":700,"y":0.05,"s":"pre-MBT rep1"},{"x":720,"y":0.048,"s":"pre-MBT rep1"},{"x":740,"y":0.049,"s":"pre-MBT rep1"},{"x":760,"y":0.047,"s":"pre-MBT rep1"},{"x":780,"y":0.051,"s":"pre-MBT rep1"},{"x":800,"y":0.049,"s":"pre-MBT rep1"},{"x":820,"y":0.046,"s":"pre-MBT rep1"},{"x":840,"y":0.049,"s":"pre-MBT rep1"},{"x":860,"y":0.051,"s":"pre-MBT rep1"},{"x":880,"y":0.046,"s":"pre-MBT rep1"},{"x":900,"y":0.048,"s":"pre-MBT rep1"},{"x":920,"y":0.045,"s":"pre-MBT rep1"},{"x":940,"y":0.047,"s":"pre-MBT rep1"},{"x":960,"y":0.045,"s":"pre-MBT rep1"},{"x":980,"y":0.046,"s":"pre-MBT rep1"},{"x":1000,"y":0.047,"s":"pre-MBT rep1"},
{"x":20,"y":0.185,"s":"pre-MBT rep2"},{"x":25,"y":0.17,"s":"pre-MBT rep2"},{"x":30,"y":0.15,"s":"pre-MBT rep2"},{"x":40,"y":0.138,"s":"pre-MBT rep2"},{"x":50,"y":0.128,"s":"pre-MBT rep2"},{"x":60,"y":0.122,"s":"pre-MBT rep2"},{"x":70,"y":0.118,"s":"pre-MBT rep2"},{"x":80,"y":0.113,"s":"pre-MBT rep2"},{"x":90,"y":0.107,"s":"pre-MBT rep2"},{"x":100,"y":0.104,"s":"pre-MBT rep2"},{"x":110,"y":0.102,"s":"pre-MBT rep2"},{"x":120,"y":0.1,"s":"pre-MBT rep2"},{"x":140,"y":0.098,"s":"pre-MBT rep2"},{"x":160,"y":0.095,"s":"pre-MBT rep2"},{"x":180,"y":0.092,"s":"pre-MBT rep2"},{"x":200,"y":0.093,"s":"pre-MBT rep2"},{"x":220,"y":0.089,"s":"pre-MBT rep2"},{"x":240,"y":0.09,"s":"pre-MBT rep2"},{"x":260,"y":0.087,"s":"pre-MBT rep2"},{"x":280,"y":0.088,"s":"pre-MBT rep2"},{"x":300,"y":0.084,"s":"pre-MBT rep2"},{"x":320,"y":0.083,"s":"pre-MBT rep2"},{"x":340,"y":0.08,"s":"pre-MBT rep2"},{"x":360,"y":0.079,"s":"pre-MBT rep2"},{"x":370,"y":0.085,"s":"pre-MBT rep2"},{"x":380,"y":0.082,"s":"pre-MBT rep2"},{"x":400,"y":0.08,"s":"pre-MBT rep2"},{"x":420,"y":0.078,"s":"pre-MBT rep2"},{"x":440,"y":0.073,"s":"pre-MBT rep2"},{"x":460,"y":0.077,"s":"pre-MBT rep2"},{"x":480,"y":0.076,"s":"pre-MBT rep2"},{"x":500,"y":0.078,"s":"pre-MBT rep2"},{"x":520,"y":0.074,"s":"pre-MBT rep2"},{"x":540,"y":0.077,"s":"pre-MBT rep2"},{"x":560,"y":0.075,"s":"pre-MBT rep2"},{"x":580,"y":0.074,"s":"pre-MBT rep2"},{"x":600,"y":0.075,"s":"pre-MBT rep2"},{"x":620,"y":0.074,"s":"pre-MBT rep2"},{"x":640,"y":0.07,"s":"pre-MBT rep2"},{"x":660,"y":0.073,"s":"pre-MBT rep2"},{"x":680,"y":0.078,"s":"pre-MBT rep2"},{"x":700,"y":0.072,"s":"pre-MBT rep2"},{"x":720,"y":0.074,"s":"pre-MBT rep2"},{"x":740,"y":0.071,"s":"pre-MBT rep2"},{"x":760,"y":0.075,"s":"pre-MBT rep2"},{"x":780,"y":0.073,"s":"pre-MBT rep2"},{"x":800,"y":0.074,"s":"pre-MBT rep2"},{"x":820,"y":0.071,"s":"pre-MBT rep2"},{"x":840,"y":0.077,"s":"pre-MBT rep2"},{"x":860,"y":0.071,"s":"pre-MBT rep2"},{"x":880,"y":0.074,"s":"pre-MBT rep2"},{"x":900,"y":0.069,"s":"pre-MBT rep2"},{"x":920,"y":0.07,"s":"pre-MBT rep2"},{"x":940,"y":0.07,"s":"pre-MBT rep2"},{"x":960,"y":0.068,"s":"pre-MBT rep2"},{"x":980,"y":0.07,"s":"pre-MBT rep2"},{"x":1000,"y":0.068,"s":"pre-MBT rep2"},
{"x":10,"y":0.002,"s":"Randomized"},{"x":20,"y":-0.002,"s":"Randomized"},{"x":30,"y":0.003,"s":"Randomized"},{"x":40,"y":-0.001,"s":"Randomized"},{"x":50,"y":0.001,"s":"Randomized"},{"x":60,"y":-0.003,"s":"Randomized"},{"x":70,"y":0.002,"s":"Randomized"},{"x":80,"y":-0.001,"s":"Randomized"},{"x":90,"y":0.003,"s":"Randomized"},{"x":100,"y":-0.002,"s":"Randomized"},{"x":110,"y":0.001,"s":"Randomized"},{"x":120,"y":-0.002,"s":"Randomized"},{"x":130,"y":0.002,"s":"Randomized"},{"x":140,"y":-0.003,"s":"Randomized"},{"x":150,"y":0.001,"s":"Randomized"},{"x":160,"y":-0.001,"s":"Randomized"},{"x":170,"y":0.003,"s":"Randomized"},{"x":180,"y":-0.002,"s":"Randomized"},{"x":190,"y":0.002,"s":"Randomized"},{"x":200,"y":-0.001,"s":"Randomized"},{"x":210,"y":0.002,"s":"Randomized"},{"x":220,"y":-0.003,"s":"Randomized"},{"x":230,"y":0.001,"s":"Randomized"},{"x":240,"y":-0.002,"s":"Randomized"},{"x":250,"y":0.003,"s":"Randomized"},{"x":260,"y":-0.001,"s":"Randomized"},{"x":270,"y":0.002,"s":"Randomized"},{"x":280,"y":-0.002,"s":"Randomized"},{"x":290,"y":0.001,"s":"Randomized"},{"x":300,"y":-0.003,"s":"Randomized"},{"x":310,"y":0.002,"s":"Randomized"},{"x":320,"y":-0.001,"s":"Randomized"},{"x":330,"y":0.003,"s":"Randomized"},{"x":340,"y":-0.002,"s":"Randomized"},{"x":350,"y":0.001,"s":"Randomized"},{"x":360,"y":-0.002,"s":"Randomized"},{"x":370,"y":0.002,"s":"Randomized"},{"x":380,"y":-0.001,"s":"Randomized"},{"x":390,"y":0.003,"s":"Randomized"},{"x":400,"y":-0.003,"s":"Randomized"},{"x":410,"y":0.001,"s":"Randomized"},{"x":420,"y":-0.002,"s":"Randomized"},{"x":430,"y":0.002,"s":"Randomized"},{"x":440,"y":-0.001,"s":"Randomized"},{"x":450,"y":0.002,"s":"Randomized"},{"x":460,"y":-0.002,"s":"Randomized"},{"x":470,"y":0.003,"s":"Randomized"},{"x":480,"y":-0.001,"s":"Randomized"},{"x":490,"y":0.001,"s":"Randomized"},{"x":500,"y":-0.003,"s":"Randomized"},{"x":510,"y":0.002,"s":"Randomized"},{"x":520,"y":-0.002,"s":"Randomized"},{"x":530,"y":0.001,"s":"Randomized"},{"x":540,"y":-0.001,"s":"Randomized"},{"x":550,"y":0.003,"s":"Randomized"},{"x":560,"y":-0.002,"s":"Randomized"},{"x":570,"y":0.002,"s":"Randomized"},{"x":580,"y":-0.003,"s":"Randomized"},{"x":590,"y":0.001,"s":"Randomized"},{"x":600,"y":-0.001,"s":"Randomized"},{"x":610,"y":0.002,"s":"Randomized"},{"x":620,"y":-0.002,"s":"Randomized"},{"x":630,"y":0.003,"s":"Randomized"},{"x":640,"y":-0.001,"s":"Randomized"},{"x":650,"y":0.002,"s":"Randomized"},{"x":660,"y":-0.003,"s":"Randomized"},{"x":670,"y":0.001,"s":"Randomized"},{"x":680,"y":-0.002,"s":"Randomized"},{"x":690,"y":0.002,"s":"Randomized"},{"x":700,"y":-0.001,"s":"Randomized"},{"x":710,"y":0.003,"s":"Randomized"},{"x":720,"y":-0.002,"s":"Randomized"},{"x":730,"y":0.001,"s":"Randomized"},{"x":740,"y":-0.002,"s":"Randomized"},{"x":750,"y":0.002,"s":"Randomized"},{"x":760,"y":-0.001,"s":"Randomized"},{"x":770,"y":0.002,"s":"Randomized"},{"x":780,"y":-0.003,"s":"Randomized"},{"x":790,"y":0.001,"s":"Randomized"},{"x":800,"y":-0.002,"s":"Randomized"},{"x":810,"y":0.003,"s":"Randomized"},{"x":820,"y":-0.001,"s":"Randomized"},{"x":830,"y":0.002,"s":"Randomized"},{"x":840,"y":-0.002,"s":"Randomized"},{"x":850,"y":0.001,"s":"Randomized"},{"x":860,"y":-0.003,"s":"Randomized"},{"x":870,"y":0.002,"s":"Randomized"},{"x":880,"y":-0.001,"s":"Randomized"},{"x":890,"y":0.003,"s":"Randomized"},{"x":900,"y":-0.002,"s":"Randomized"},{"x":910,"y":0.001,"s":"Randomized"},{"x":920,"y":-0.002,"s":"Randomized"},{"x":930,"y":0.002,"s":"Randomized"},{"x":940,"y":-0.001,"s":"Randomized"},{"x":950,"y":0.002,"s":"Randomized"},{"x":960,"y":-0.003,"s":"Randomized"},{"x":970,"y":0.001,"s":"Randomized"},{"x":980,"y":-0.002,"s":"Randomized"},{"x":990,"y":0.002,"s":"Randomized"},{"x":1000,"y":-0.001,"s":"Randomized"}
       ]},
        "mark":{"type":"line","clip":true,"strokeWidth":1.6},
        "encoding":{"color":{"field":"s","type":"nominal","scale":{"domain":["pre-MBT rep1","pre-MBT rep2","Randomized"],"range":["#3a3db8","#44d6c8","#111111"]},
         "legend":{"orient":"none","legendX":106,"legendY":6,"title":null,"symbolType":"stroke","symbolStrokeWidth":2,"symbolSize":100,"labelFontSize":14,"padding":4,"strokeColor":"#999999","fillColor":"white","rowPadding":1,"labelOffset":3}}}},
       {"data":{"values":[{"x":-185,"y":0.246,"label":"C"}]},
        "mark":{"type":"text","fontSize":22,"fontWeight":"bold","align":"center","baseline":"middle","color":"#111111","clip":false},
        "encoding":{"text":{"field":"label"}}},
       {"data":{"values":[{"x":471,"y":0.2257,"label":"pre-MBT autocorrelation"}]},
        "mark":{"type":"text","fontSize":17.8,"fontWeight":"bold","align":"center","baseline":"middle","color":"#111111","clip":false},
        "encoding":{"text":{"field":"label"}}}
      ]
     }
    ]},
    {
     "width":127,"height":210,
     "encoding":{
      "x":{"field":"x","type":"quantitative","scale":{"domain":[0.37,4.58],"nice":false,"zero":false},"axis":{"values":[1,2,3,4],"labelExpr":"['','Genome','All genes','pre-MBT','First wave'][datum.value]","labelAngle":-45,"labelAlign":"right","labelBaseline":"middle","labelPadding":4,"title":null}},
      "y":{"field":"y","type":"quantitative","scale":{"domain":[-2.76,4.0],"nice":false,"zero":false},"axis":{"values":[-2.5,0,2.5],"labelExpr":"datum.value == 0 ? '0' : (datum.value > 0 ? '2.5' : '-2.5')","ticks":true,"tickSize":4,"tickColor":"#8c8c8c","labelPadding":2,"title":"Replication timing","titlePadding":33}}
     },
     "layer":[
      {"data":{"values":[{"x":1,"y":-2.03,"y2":2.0},{"x":2,"y":-1.95,"y2":2.49},{"x":3,"y":-1.82,"y2":2.9},{"x":4,"y":-0.58,"y2":2.96}]},
       "mark":{"type":"rule","strokeDash":[4,3],"strokeWidth":1.2,"color":"#111111"},
       "encoding":{"y2":{"field":"y2"}}},
      {"data":{"values":[{"x":1,"cat":"Genome","y":-0.8,"y2":0.87},{"x":2,"cat":"All genes","y":-0.33,"y2":1.4},{"x":3,"cat":"pre-MBT","y":0.3,"y2":1.89},{"x":4,"cat":"First wave","y":0.52,"y2":1.96}]},
       "mark":{"type":"bar","size":25,"stroke":"#111111","strokeWidth":1.2},
       "encoding":{"y2":{"field":"y2"},"fill":{"field":"cat","type":"nominal","scale":{"domain":["Genome","All genes","pre-MBT","First wave"],"range":["#ffffff","#c6c6c6","#3b80c3","#e32420"]},"legend":null}}},
      {"data":{"values":[{"x":3,"y":0.9},{"x":4,"y":1.21}]},
       "mark":{"type":"point","shape":"M -1.15 -1 L -1 -1 L -0.6 0 L -1 1 L -1.15 1 Z M 1.15 -1 L 1 -1 L 0.6 0 L 1 1 L 1.15 1 Z","size":625,"filled":true,"color":"#ffffff","opacity":1,"strokeWidth":0}},
      {"data":{"values":[{"x":3,"y":0.9},{"x":4,"y":1.21}]},
       "mark":{"type":"point","shape":"M -1 -1 L -0.6 0 L -1 1 M 1 -1 L 0.6 0 L 1 1","size":625,"filled":false,"color":"#111111","opacity":1,"strokeWidth":1.2}},
      {"data":{"values":[{"x":1,"y":-2.03},{"x":1,"y":2.0},{"x":2,"y":-1.95},{"x":2,"y":2.49},{"x":3,"y":-1.82},{"x":3,"y":2.9},{"x":4,"y":-0.58},{"x":4,"y":2.96}]},
       "mark":{"type":"tick","orient":"horizontal","size":12,"thickness":1.5,"color":"#111111","opacity":1}},
      {"data":{"values":[{"x":1,"y":0.03},{"x":2,"y":0.62}]},
       "mark":{"type":"tick","orient":"horizontal","size":25,"thickness":3,"color":"#111111","opacity":1}},
      {"data":{"values":[{"x":3,"y":0.9},{"x":4,"y":1.21}]},
       "mark":{"type":"tick","orient":"horizontal","size":15,"thickness":3,"color":"#111111","opacity":1}},
      {"data":{"values":[{"x":1,"x2":2,"y":2.74},{"x":2,"x2":3,"y":2.98},{"x":3,"x2":4,"y":3.51}]},
       "mark":{"type":"rule","strokeWidth":1.2,"color":"#222222"},
       "encoding":{"x2":{"field":"x2"}}},
      {"data":{"values":[{"x":1.5,"y":2.74,"label":"**"},{"x":2.5,"y":2.98,"label":"**"},{"x":3.5,"y":3.51,"label":"*"}]},
       "mark":{"type":"text","fontSize":16,"align":"center","baseline":"alphabetic","dy":5,"color":"#111111"},
       "encoding":{"text":{"field":"label"}}},
      {"data":{"values":[{"x":-3.07,"y":4.8,"label":"D"}]},
       "mark":{"type":"text","fontSize":22,"fontWeight":"bold","align":"center","baseline":"middle","color":"#111111","clip":false},
       "encoding":{"text":{"field":"label"}}},
      {"data":{"values":[{"x":2.52,"y":4.55,"label":"pre-MBT timing"}]},
       "mark":{"type":"text","fontSize":17.8,"fontWeight":"bold","align":"center","baseline":"middle","color":"#111111","clip":false},
       "encoding":{"text":{"field":"label"}}},
      {"data":{"values":[{"x":-1.48,"y":0.46,"x2":-1.48,"y2":2.05},{"x":-1.48,"y":-0.38,"x2":-1.48,"y2":-1.8}]},
       "mark":{"type":"rule","strokeWidth":1.5,"color":"#111111","clip":false},
       "encoding":{"x2":{"field":"x2"},"y2":{"field":"y2"}}},
      {"data":{"values":[{"x":-1.48,"y":2.07,"dir":"up"},{"x":-1.48,"y":-1.82,"dir":"down"}]},
       "mark":{"type":"point","filled":true,"size":45,"color":"#111111","opacity":1,"clip":false},
       "encoding":{"shape":{"field":"dir","type":"nominal","scale":{"domain":["up","down","left","right"],"range":["triangle-up","triangle-down","triangle-left","triangle-right"]},"legend":null}}},
      {"data":{"values":[{"x":-0.99,"y":0.94,"label":"Early"},{"x":-0.99,"y":-1.05,"label":"Late"}]},
       "mark":{"type":"text","fontSize":16,"angle":-90,"align":"center","baseline":"middle","color":"#1a1a1a","clip":false},
       "encoding":{"text":{"field":"label"}}}
     ]
    }
   ]}
  ]}
 ]}
]
}
